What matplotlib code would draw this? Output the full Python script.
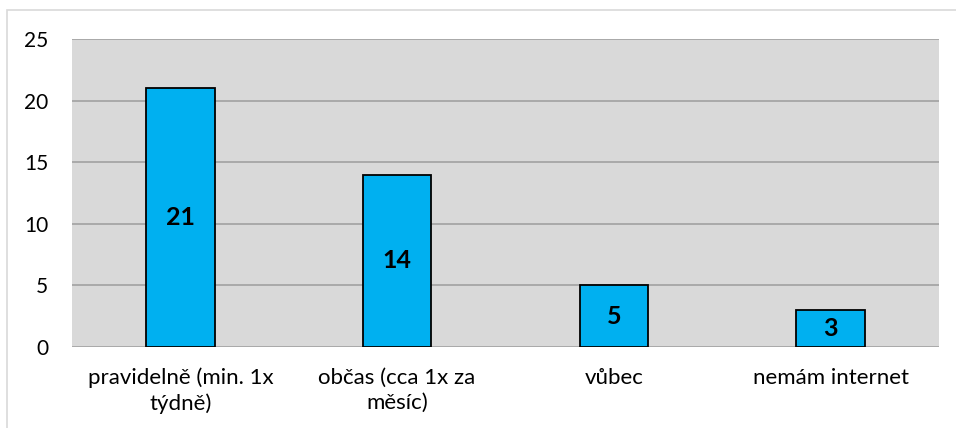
import numpy as np
import matplotlib.pyplot as plt
from matplotlib.patches import Rectangle

# data
categories = ['pravidelně (min. 1x\ntýdně)', 'občas (cca 1x za\nměsíc)', 'vůbec', 'nemám internet']
values = [21, 14, 5, 3]
yticks = [0, 5, 10, 15, 20, 25]

plt.rcParams['font.family'] = ['Lato', 'DejaVu Sans']

fig = plt.figure(figsize=(9.56, 4.28), dpi=100)
ax = fig.add_axes([72/956, 1-347/428, (939-72)/956, (347-39)/428])

# light outer frame (only top and left edges visible)
fig.patches.append(Rectangle((7/956, -0.1), 1.2, 1-10/428+0.1, transform=fig.transFigure,
                             fill=False, edgecolor='#d9d9d9', linewidth=1.2))

x = np.arange(len(categories))
ax.set_facecolor('#d9d9d9')
ax.bar(x, values, width=0.315, color='#00b0f0', edgecolor='black', linewidth=1.3, zorder=3)

for xi, v in zip(x, values):
    ax.text(xi, v/2, str(v), ha='center', va='center', fontsize=18, fontweight='bold', zorder=4)

ax.set_xlim(-0.5, len(categories)-0.5)
ax.set_ylim(0, 25)
ax.set_yticks(yticks)
ax.set_xticks(x)
ax.set_xticklabels(categories, fontsize=16, linespacing=1.3)
ax.tick_params(axis='y', labelsize=15, length=0, pad=17)
ax.tick_params(axis='x', length=0, pad=15)
ax.yaxis.grid(True, color='#a6a6a6', linewidth=1.3, zorder=0)
ax.set_axisbelow(True)
for s in ax.spines.values():
    s.set_visible(False)

plt.savefig('out.png', dpi=100)
